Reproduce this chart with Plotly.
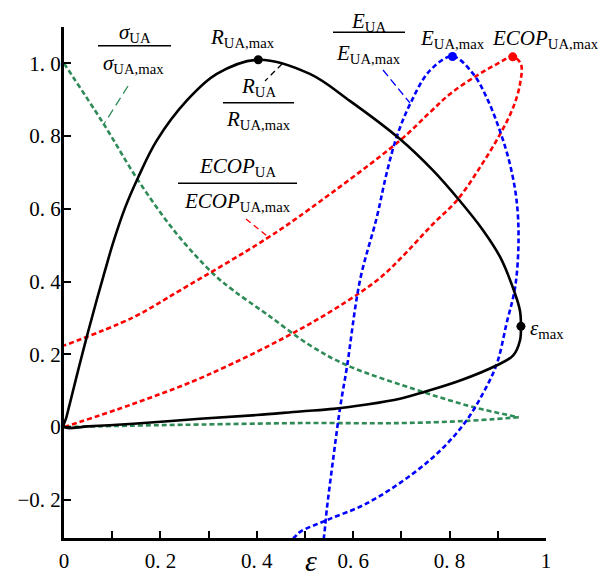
import plotly.graph_objects as go

# ---------------- data ----------------
R_x = [0, 0.005, 0.015, 0.032, 0.050, 0.068, 0.085, 0.102, 0.127, 0.154, 0.192, 0.255, 0.317, 0.403,
       0.51, 0.593, 0.697, 0.766, 0.818, 0.870, 0.905, 0.936, 0.946, 0.948, 0.946, 0.932, 0.898,
       0.822, 0.746, 0.697, 0.628, 0.559, 0.49, 0.40, 0.282, 0.144, 0.05, 0]
R_y = [0, 0.027, 0.08, 0.17, 0.262, 0.35, 0.43, 0.507, 0.604, 0.687, 0.787, 0.898, 0.971, 1.01,
       0.971, 0.897, 0.792, 0.705, 0.627, 0.540, 0.467, 0.366, 0.32, 0.277, 0.238, 0.197, 0.17,
       0.128, 0.096, 0.078, 0.062, 0.050, 0.043, 0.033, 0.023, 0.009, 0.002, 0]

sig_up_x = [0, 0.082, 0.154, 0.234, 0.31, 0.351, 0.42, 0.51, 0.587, 0.746, 0.849, 0.943]
sig_up_y = [1.0, 0.834, 0.678, 0.531, 0.421, 0.376, 0.311, 0.225, 0.17, 0.096, 0.055, 0.027]
sig_lo_x = [0.943, 0.835, 0.697, 0.49, 0.282, 0.144, 0]
sig_lo_y = [0.027, 0.017, 0.011, 0.011, 0.007, 0.004, 0]

ECOP_x = [0, 0.144, 0.296, 0.51, 0.649, 0.697, 0.766, 0.815, 0.863, 0.905, 0.932, 0.946, 0.948,
          0.931, 0.898, 0.856, 0.801, 0.759, 0.697, 0.51, 0.42, 0.241, 0.144, 0]
ECOP_y = [0, 0.064, 0.142, 0.284, 0.403, 0.462, 0.559, 0.623, 0.714, 0.806, 0.879, 0.943, 0.998,
          1.018, 0.998, 0.966, 0.916, 0.865, 0.788, 0.6, 0.518, 0.376, 0.302, 0.224]

E_x = [0.535, 0.539, 0.545, 0.559, 0.573, 0.587, 0.614, 0.649, 0.669, 0.69, 0.718, 0.759, 0.806,
       0.849, 0.880, 0.905, 0.925, 0.939, 0.943, 0.936, 0.918, 0.898, 0.869, 0.835, 0.788, 0.724,
       0.628, 0.545, 0.49, 0.476, 0.45]
E_y = [-0.33, -0.305, -0.229, -0.082, 0.055, 0.165, 0.403, 0.577, 0.696, 0.797, 0.888, 0.98, 1.019,
       0.971, 0.897, 0.812, 0.724, 0.623, 0.513, 0.385, 0.284, 0.174, 0.092, 0.018, -0.055, -0.128,
       -0.21, -0.256, -0.288, -0.305, -0.32]

# highlighted points
R_max = (0.403, 1.01)
E_max = (0.806, 1.019)
ECOP_max = (0.931, 1.018)
eps_max = (0.948, 0.277)

x_ticks = [0, 0.1, 0.2, 0.3, 0.4, 0.5, 0.6, 0.7, 0.8, 0.9, 1.0]
x_ticktext = ["0", "", "0. 2", "", "0. 4", "", "0. 6", "", "0. 8", "", "1"]
y_ticks = [-0.2, 0, 0.2, 0.4, 0.6, 0.8, 1.0]
y_ticktext = ["\u22120. 2", "0", "0. 2", "0. 4", "0. 6", "0. 8", "1. 0"]

# ---------------- styling ----------------
W, H = 613, 576
L, R, T, B = 64, 67, 27, 38
Y0, Y1 = -0.305, 1.1
FONT = "Liberation Serif"
GREEN = "#2E8B57"
RED = "#FF0000"
BLUE = "#0000FF"


def PX(px):
    return (px - L) / (W - L - R)


def PY(py):
    return (H - B - py) / (H - T - B)


dot = "5px,3px"
SM = 1.0
fig = go.Figure()
fig.add_trace(go.Scatter(x=sig_up_x, y=sig_up_y, mode="lines",
                         line=dict(color=GREEN, width=2.6, dash=dot, shape="spline", smoothing=SM)))
fig.add_trace(go.Scatter(x=sig_lo_x, y=sig_lo_y, mode="lines",
                         line=dict(color=GREEN, width=2.6, dash=dot, shape="spline", smoothing=SM)))
fig.add_trace(go.Scatter(x=ECOP_x, y=ECOP_y, mode="lines",
                         line=dict(color=RED, width=2.6, dash=dot, shape="spline", smoothing=SM)))
fig.add_trace(go.Scatter(x=E_x, y=E_y, mode="lines",
                         line=dict(color=BLUE, width=2.6, dash=dot, shape="spline", smoothing=SM)))
fig.add_trace(go.Scatter(x=R_x, y=R_y, mode="lines",
                         line=dict(color="black", width=2.6, shape="spline", smoothing=SM)))
fig.add_trace(go.Scatter(x=[R_max[0], eps_max[0]], y=[R_max[1], eps_max[1]], mode="markers",
                         marker=dict(color="black", size=9)))
fig.add_trace(go.Scatter(x=[E_max[0]], y=[E_max[1]], mode="markers",
                         marker=dict(color=BLUE, size=9)))
fig.add_trace(go.Scatter(x=[ECOP_max[0]], y=[ECOP_max[1]], mode="markers",
                         marker=dict(color=RED, size=9)))

annots = []
shapes = []


def txt(text, px, py, size=21, color="black"):
    annots.append(dict(text=text, x=PX(px), y=PY(py), xref="paper", yref="paper", showarrow=False,
                       xanchor="center", yanchor="middle",
                       font=dict(family=FONT, size=size, color=color)))


def hline(px0, px1, py, color="black", width=1.5):
    shapes.append(dict(type="line", x0=PX(px0), x1=PX(px1), y0=PY(py), y1=PY(py),
                       xref="paper", yref="paper", line=dict(color=color, width=width)))


def seg(px0, py0, px1, py1, color, width=1.3, dash="6px,4px"):
    shapes.append(dict(type="line", x0=PX(px0), x1=PX(px1), y0=PY(py0), y1=PY(py1),
                       xref="paper", yref="paper", line=dict(color=color, width=width, dash=dash)))


# sigma fraction
txt("<i>σ</i><sub>UA</sub>", 135, 33)
hline(98, 171, 45.7)
txt("<i>σ</i><sub>UA,max</sub>", 133, 64)
seg(128, 86, 104, 124, GREEN, dash="9px,5px")

# R labels
txt("<i>R</i><sub>UA,max</sub>", 242, 38)
txt("<i>R</i><sub>UA</sub>", 258, 87)
hline(223, 294, 102.7)
txt("<i>R</i><sub>UA,max</sub>", 258, 120)
seg(282, 64, 265, 81, "black", dash="6px,4px")

# ECOP fraction
txt("<i>ECOP</i><sub>UA</sub>", 237, 167)
hline(178, 297, 183.3)
txt("<i>ECOP</i><sub>UA,max</sub>", 237, 202)
seg(246, 219, 267, 236, RED, dash="6px,4px")

# E fraction
txt("<i>E</i><sub>UA</sub>", 368, 22)
hline(333, 405, 32.3)
txt("<i>E</i><sub>UA,max</sub>", 368, 54)
seg(383, 70, 410, 103, BLUE, dash="8px,4px")

txt("<i>E</i><sub>UA,max</sub>", 452, 39)
txt("<i>ECOP</i><sub>UA,max</sub>", 545, 39)
txt("<i>ε</i><sub>max</sub>", 547, 329)

# x-axis title
txt("<i>ε</i>", 311, 560, size=30)

fig.update_layout(
    width=W, height=H,
    margin=dict(l=L, r=R, t=T, b=B, autoexpand=False),
    paper_bgcolor="white", plot_bgcolor="white",
    showlegend=False,
    annotations=annots, shapes=shapes,
    font=dict(family=FONT, size=21, color="black"),
)
fig.update_xaxes(range=[0, 1], tickvals=x_ticks, ticktext=x_ticktext, ticks="inside", ticklen=7,
                 tickwidth=2, tickcolor="black", showline=True, linewidth=3, linecolor="black",
                 showgrid=False, zeroline=False, automargin=False, ticklabelstandoff=2,
                 tickfont=dict(family=FONT, size=21))
fig.update_yaxes(range=[Y0, Y1], tickvals=y_ticks, ticktext=y_ticktext, ticks="inside", ticklen=7,
                 tickwidth=2, tickcolor="black", showline=True, linewidth=3, linecolor="black",
                 showgrid=False, zeroline=False, automargin=False, ticklabelstandoff=-4,
                 tickfont=dict(family=FONT, size=21))
fig.write_html("out.html", config={"displayModeBar": False},
               post_script="document.body.style.margin='0';")
